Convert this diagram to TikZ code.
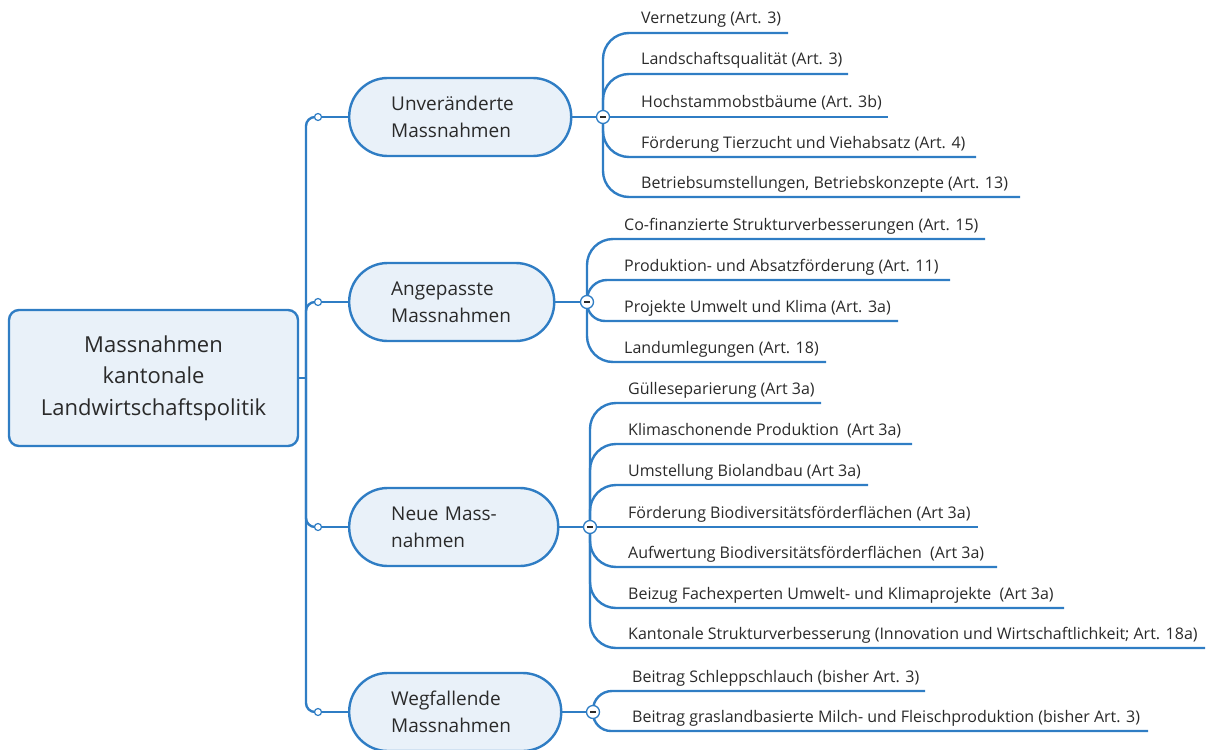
\documentclass[tikz,border=0pt]{standalone}
\usepackage{fontspec}
\setmainfont{Open Sans}
\usetikzlibrary{backgrounds}
\definecolor{mmblue}{HTML}{2F7DC4}
\definecolor{mmfill}{HTML}{E9F1F9}
\definecolor{mmtext}{HTML}{2A2A2A}
\begin{document}
\begin{tikzpicture}[x=1pt,y=-1pt,
  conn/.style={draw=mmblue, line width=2.4pt},
  rootbox/.style={draw=mmblue, line width=2.4pt, fill=mmfill, rounded corners=10pt,
    minimum width=289pt, minimum height=136pt, align=center, text=mmtext,
    font=\fontsize{22}{31.5}\selectfont},
  branch/.style={draw=mmblue, line width=2.4pt, fill=mmfill, rounded corners=38.5pt,
    minimum height=78pt, inner xsep=42pt, align=left, text=mmtext, anchor=west,
    font=\fontsize{19}{27}\selectfont},
  dot/.style={circle, draw=mmblue, line width=1.2pt, fill=white, minimum size=7pt, inner sep=0pt},
  minus/.style={circle, draw=mmblue, line width=1.3pt, fill=white, minimum size=13pt, inner sep=0pt,
    path picture={\draw[line width=1.5pt, mmtext]
      ([xshift=-3pt]path picture bounding box.center) -- ([xshift=3pt]path picture bounding box.center);}},
  leaf/.style={anchor=base west, inner sep=0pt, text=mmtext, font=\fontsize{16}{19}\selectfont},
]
\useasboundingbox (0,0) rectangle (1206,749);

% root
\node[rootbox] (root) at (153.5,378) {Massnahmen\\kantonale\\Landwirtschaftspolitik};
\coordinate (tr) at (306,378);

% trunk dots
\node[dot] (s1) at (318,117) {};
\node[dot] (s2) at (318,302) {};
\node[dot] (s3) at (318,527) {};
\node[dot] (s4) at (318,712) {};

% branches
\node[branch, text width=138pt] (b1) at (348,117) {Unveränderte\\Massnahmen};
\node[branch, text width=121pt] (b2) at (348,302) {Angepasste\\Massnahmen};
\node[branch, text width=125pt] (b3) at (348,527) {Neue Mass-\\nahmen};
\node[branch, text width=128pt] (b4) at (348,712) {Wegfallende\\Massnahmen};

% collapse markers
\node[minus] (m1) at (603,117) {};
\node[minus] (m2) at (587,302) {};
\node[minus] (m3) at (590,527) {};
\node[minus] (m4) at (593,712) {};

% leaves: branch 1
\node[leaf] (l11) at (641,24) {Vernetzung (Art. 3)};
\node[leaf] (l12) at (641,65) {Landschaftsqualität (Art. 3)};
\node[leaf] (l13) at (641,108) {Hochstammobstbäume (Art. 3b)};
\node[leaf] (l14) at (641,148) {Förderung Tierzucht und Viehabsatz (Art. 4)};
\node[leaf] (l15) at (641,188) {Betriebsumstellungen, Betriebskonzepte (Art. 13)};
\coordinate (e11) at (788,33);
\coordinate (e12) at (848,74);
\coordinate (e13) at (888,117);
\coordinate (e14) at (976,157);
\coordinate (e15) at (1020,197);

% leaves: branch 2
\node[leaf] (l21) at (624,230) {Co-finanzierte Strukturverbesserungen (Art. 15)};
\node[leaf] (l22) at (624,271) {Produktion- und Absatzförderung (Art. 11)};
\node[leaf] (l23) at (624,312) {Projekte Umwelt und Klima (Art. 3a)};
\node[leaf] (l24) at (624,353) {Landumlegungen (Art. 18)};
\coordinate (e21) at (985,239);
\coordinate (e22) at (950,280);
\coordinate (e23) at (898,321);
\coordinate (e24) at (826,362);

% leaves: branch 3
\node[leaf] (l31) at (628,394) {Gülleseparierung (Art 3a)};
\node[leaf] (l32) at (628,435) {Klimaschonende Produktion\ \ (Art 3a)};
\node[leaf] (l33) at (628,476) {Umstellung Biolandbau (Art 3a)};
\node[leaf] (l34) at (628,518) {Förderung Biodiversitätsförderflächen (Art 3a)};
\node[leaf] (l35) at (628,558) {Aufwertung Biodiversitätsförderflächen\ \ (Art 3a)};
\node[leaf] (l36) at (628,599) {Beizug Fachexperten Umwelt- und Klimaprojekte\ \ (Art 3a)};
\node[leaf] (l37) at (628,639) {Kantonale Strukturverbesserung (Innovation und Wirtschaftlichkeit; Art. 18a)};
\coordinate (e31) at (821,403);
\coordinate (e32) at (912,444);
\coordinate (e33) at (868,485);
\coordinate (e34) at (978,527);
\coordinate (e35) at (997,567);
\coordinate (e36) at (1064,608);
\coordinate (e37) at (1205,648);

% leaves: branch 4
\node[leaf] (l41) at (632,682) {Beitrag Schleppschlauch (bisher Art. 3)};
\node[leaf] (l42) at (632,722) {Beitrag graslandbasierte Milch- und Fleischproduktion (bisher Art. 3)};
\coordinate (e41) at (925,691);
\coordinate (e42) at (1148,731);

\begin{scope}[on background layer]
  % trunk
  \draw[conn] (root.east) -- (tr);
  \draw[conn, rounded corners=9pt] (tr) |- (s1.west);
  \draw[conn, rounded corners=9pt] (tr) |- (s2.west);
  \draw[conn, rounded corners=9pt] (tr) |- (s3.west);
  \draw[conn, rounded corners=9pt] (tr) |- (s4.west);
  \foreach \i in {1,2,3,4} {
    \draw[conn] (s\i.east) -- (b\i.west);
    \draw[conn] (b\i.east) -- (m\i.west);
  }
  % branch 1 leaves
  \draw[conn, rounded corners=26pt] (m1.center) |- (e11);
  \draw[conn, rounded corners=26pt] (m1.center) |- (e12);
  \draw[conn] (m1.center) -- (e13);
  \draw[conn, rounded corners=26pt] (m1.center) |- (e14);
  \draw[conn, rounded corners=26pt] (m1.center) |- (e15);
  % branch 2 leaves
  \draw[conn, rounded corners=26pt] (m2.center) |- (e21);
  \draw[conn, rounded corners=20pt] (m2.center) |- (e22);
  \draw[conn, rounded corners=18pt] (m2.center) |- (e23);
  \draw[conn, rounded corners=26pt] (m2.center) |- (e24);
  % branch 3 leaves
  \draw[conn, rounded corners=26pt] (m3.center) |- (e31);
  \draw[conn, rounded corners=26pt] (m3.center) |- (e32);
  \draw[conn, rounded corners=26pt] (m3.center) |- (e33);
  \draw[conn] (m3.center) -- (e34);
  \draw[conn, rounded corners=26pt] (m3.center) |- (e35);
  \draw[conn, rounded corners=26pt] (m3.center) |- (e36);
  \draw[conn, rounded corners=26pt] (m3.center) |- (e37);
  % branch 4 leaves
  \draw[conn, rounded corners=19pt] (m4.center) |- (e41);
  \draw[conn, rounded corners=18pt] (m4.center) |- (e42);
\end{scope}
\end{tikzpicture}
\end{document}
